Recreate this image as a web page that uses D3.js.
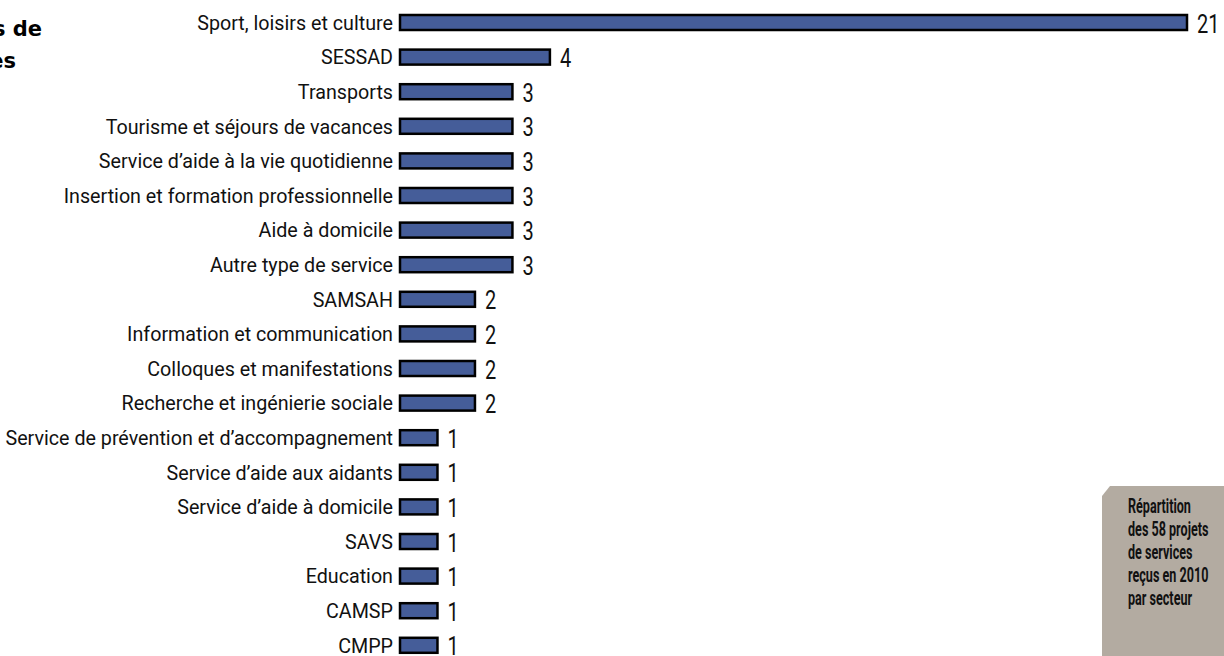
<!DOCTYPE html>
<html>
<head>
<meta charset="utf-8">
<script src="https://cdn.jsdelivr.net/npm/d3@7"></script>
<style>
  body { margin: 0; background: #fff; }
  svg { display: block; }
</style>
</head>
<body>
<script>
var categories = [
  "Sport, loisirs et culture", "SESSAD", "Transports", "Tourisme et séjours de vacances",
  "Service d\u2019aide à la vie quotidienne", "Insertion et formation professionnelle",
  "Aide à domicile", "Autre type de service", "SAMSAH", "Information et communication",
  "Colloques et manifestations", "Recherche et ingénierie sociale",
  "Service de prévention et d\u2019accompagnement", "Service d\u2019aide aux aidants",
  "Service d\u2019aide à domicile", "SAVS", "Education", "CAMSP", "CMPP"
];
var values = [21, 4, 3, 3, 3, 3, 3, 3, 2, 2, 2, 2, 1, 1, 1, 1, 1, 1, 1];
var noteLines = ["Répartition", "des 58 projets", "de services", "reçus en 2010", "par secteur"];
// title runs off the left edge, only its end shows
var titleLines = ["s de", "es"];

var W = 1224, H = 656;
var svg = d3.select("body").append("svg").attr("width", W).attr("height", H);

var x = d3.scaleLinear().domain([0, 21]).range([400, 1187]);
var y = d3.scalePoint().domain(categories).range([22.5, 645.3]);

svg.selectAll("text.title")
  .data(titleLines)
  .enter().append("text")
    .attr("class", "title")
    .attr("x", (d, i) => i == 0 ? 42 : 16)
    .attr("y", (d, i) => i == 0 ? 36 : 68)
    .attr("text-anchor", "end")
    .attr("font-family", "DejaVu Sans")
    .attr("font-weight", "bold")
    .attr("font-size", 21)
    .attr("fill", "#000")
    .text(d => d);

var rows = svg.selectAll("g.row")
  .data(categories.map((c, i) => ({cat: c, val: values[i]})))
  .enter().append("g")
    .attr("class", "row")
    .attr("transform", d => "translate(0," + y(d.cat) + ")");

rows.append("rect")
  .attr("x", x(0))
  .attr("y", -7.5)
  .attr("width", d => x(d.val) - x(0))
  .attr("height", 15)
  .attr("fill", "#455d99")
  .attr("stroke", "#000")
  .attr("stroke-width", 2.5);

rows.append("text")
  .attr("transform", "translate(393,0) scale(0.985,1)")
  .attr("dy", "0.36em")
  .attr("text-anchor", "end")
  .attr("font-family", "Roboto")
  .attr("font-size", 20)
  .attr("fill", "#111")
  .text(d => d.cat);

rows.append("text")
  .attr("transform", d => "translate(" + (x(d.val) + 10) + ",1) scale(0.8,1)")
  .attr("dy", "0.36em")
  .attr("font-family", "Roboto")
  .attr("font-size", 25)
  .attr("fill", "#111")
  .text(d => d.val);

// note box, bottom right
var box = svg.append("g");
box.append("path")
  .attr("d", d3.line()([[1102, 496], [1110, 486], [W, 486], [W, H], [1102, H]]))
  .attr("fill", "#b3aba1");

box.selectAll("text")
  .data(noteLines)
  .enter().append("text")
    .attr("transform", (d, i) => "translate(1128," + (513 + i * 23) + ") scale(0.6,1)")
    .attr("font-family", "Roboto")
    .attr("font-weight", "bold")
    .attr("font-size", 21)
    .attr("fill", "#111")
    .text(d => d);
</script>
</body>
</html>
